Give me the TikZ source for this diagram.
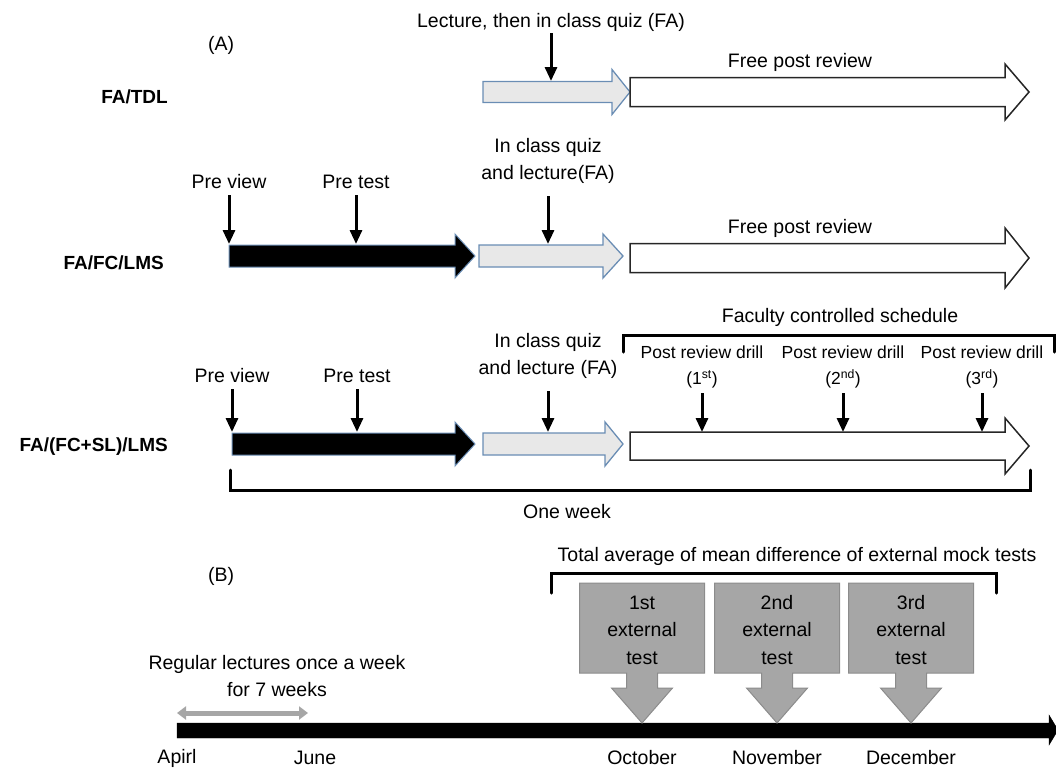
\documentclass[tikz,border=0pt]{standalone}
\usepackage{fontspec}
\setmainfont{Liberation Sans}
\usetikzlibrary{arrows.meta, positioning, calc}

\definecolor{quizfill}{HTML}{E8E8E8}
\definecolor{quizline}{HTML}{6A8DB4}
\definecolor{testgray}{HTML}{A6A6A6}
\definecolor{testline}{HTML}{8C8C8C}

\begin{document}
\begin{tikzpicture}[x=1pt, y=-1pt,
  lbl/.style={font=\fontsize{19.5}{27.5}\selectfont, inner sep=0pt, align=center},
  grp/.style={font=\bfseries\fontsize{19}{22}\selectfont, inner sep=0pt, anchor=east},
  ptr/.style={line width=3pt, -{Triangle[width=12pt,length=14pt]}},
  brk/.style={line width=3pt, line cap=round},
  quizarrow/.style={fill=quizfill, draw=quizline, line width=1.3pt},
  postarrow/.style={fill=white, draw=black!85, line width=1.5pt},
  prearrow/.style={fill=black, draw=quizline, line width=1pt}]
  \newcommand\blockarrow[7]{% style, start, head start, tip, mid y, body half, head half
    \draw[#1] (#2,{#5-#6}) -- (#3,{#5-#6}) -- (#3,{#5-#7}) -- (#4,#5)
      -- (#3,{#5+#7}) -- (#3,{#5+#6}) -- (#2,{#5+#6}) -- cycle;}

  \useasboundingbox (0,0) rectangle (1056,769);

  % (A)
  \node[lbl] (partA) at (221,45) {(A)};

  % FA/TDL
  \node[grp] (tdl) at (168,97) {FA/TDL};
  \blockarrow{quizarrow}{483}{612}{630}{92}{10.5}{22.5}
  \blockarrow{postarrow}{630}{1005}{1029}{92}{14.5}{28}
  \node[lbl] (lec1) at (551,22) {Lecture, then in class quiz (FA)};
  \draw[ptr, shorten <=2pt] (lec1.south) -- (551,81);
  \node[lbl] (free1) at (800,62) {Free post review};

  % FA/FC/LMS
  \node[grp] (fclms) at (164,263) {FA/FC/LMS};
  \blockarrow{prearrow}{229}{455}{475}{256}{11}{22}
  \blockarrow{quizarrow}{479}{603}{623}{256}{11}{22}
  \blockarrow{postarrow}{630}{1005}{1029}{258}{14.5}{30}
  \foreach \nm/\x/\txt in {pv2/229/Pre view, pt2/356/Pre test}{
    \node[lbl] (\nm) at (\x,182) {\txt};
    \draw[ptr, shorten <=6pt] (\nm.south) -- (\x,244);
  }
  \node[lbl] (quiz2) at (548,161) {In class quiz\\and lecture(FA)};
  \draw[ptr, shorten <=12pt] (quiz2.south) -- (548,244);
  \node[lbl] (free2) at (800,228) {Free post review};

  % FA/(FC+SL)/LMS
  \node[grp] (fcsl) at (168,447) {FA/(FC+SL)/LMS};
  \blockarrow{prearrow}{232}{455}{475}{444}{11}{22}
  \blockarrow{quizarrow}{483}{605}{623}{444}{11}{22}
  \blockarrow{postarrow}{630}{1005}{1029}{446}{14}{28}
  \foreach \nm/\x/\txt in {pv3/232/Pre view, pt3/357/Pre test}{
    \node[lbl] (\nm) at (\x,376) {\txt};
    \draw[ptr, shorten <=6pt] (\nm.south) -- (\x,432);
  }
  \node[lbl] (quiz3) at (548,356) {In class quiz\\and lecture (FA)};
  \draw[ptr, shorten <=12pt] (quiz3.south) -- (548,432);
  \foreach \x/\nth [count=\i] in {702/st, 843/nd, 982/rd}{
    \node[lbl, font=\fontsize{17.5}{26}\selectfont] (drill\i) at (\x,367) {Post review drill\\(\i\textsuperscript{\nth})};
    \draw[ptr, shorten <=5pt] (drill\i.south) -- (\x,432);
  }
  \node[lbl] (fcs) at (840,317) {Faculty controlled schedule};
  \draw[brk] (623,352) -- (623,335) -- (1054,335) -- (1054,352);
  \draw[brk] (230,470) -- (230,490) -- (1030,490) -- (1030,470);
  \node[lbl] (week) at (567,512) {One week};

  % (B)
  \node[lbl] (partB) at (221,576) {(B)};
  \node[lbl] (total) at (797,556) {Total average of mean difference of external mock tests};
  \draw[brk] (551,593) -- (551,573) -- (996,573) -- (996,593);

  % timeline
  \draw[fill=black] (177,723) -- (1049,723) -- (1049,715) -- (1058,730) -- (1049,745)
    -- (1049,738) -- (177,738) -- cycle;
  \draw[draw=testgray, line width=5pt, {Triangle[width=13pt,length=9pt]}-{Triangle[width=13pt,length=9pt]}] (177,713) -- (308,713);
  \node[lbl] (reg) at (277,676) {Regular lectures once a week\\for 7 weeks};
  \foreach \x/\mon in {177/Apirl, 315/June, 642/October, 777/November, 911/December}{
    \node[lbl] (m-\mon) at (\x,758) {\mon};
  }

  % external tests
  \foreach \cx/\nth [count=\i] in {642/1st, 777/2nd, 911/3rd}{
    \draw[fill=testgray, draw=testline, line width=1pt]
      ({\cx-62.5},583) -- ({\cx+62.5},583) -- ({\cx+62.5},673) -- ({\cx+15.5},673)
      -- ({\cx+15.5},688) -- ({\cx+30.5},688) -- (\cx,723) -- ({\cx-30.5},688)
      -- ({\cx-15.5},688) -- ({\cx-15.5},673) -- ({\cx-62.5},673) -- cycle;
    \node[lbl] (ext\i) at (\cx,630) {\nth\\external\\test};
  }
\end{tikzpicture}
\end{document}
